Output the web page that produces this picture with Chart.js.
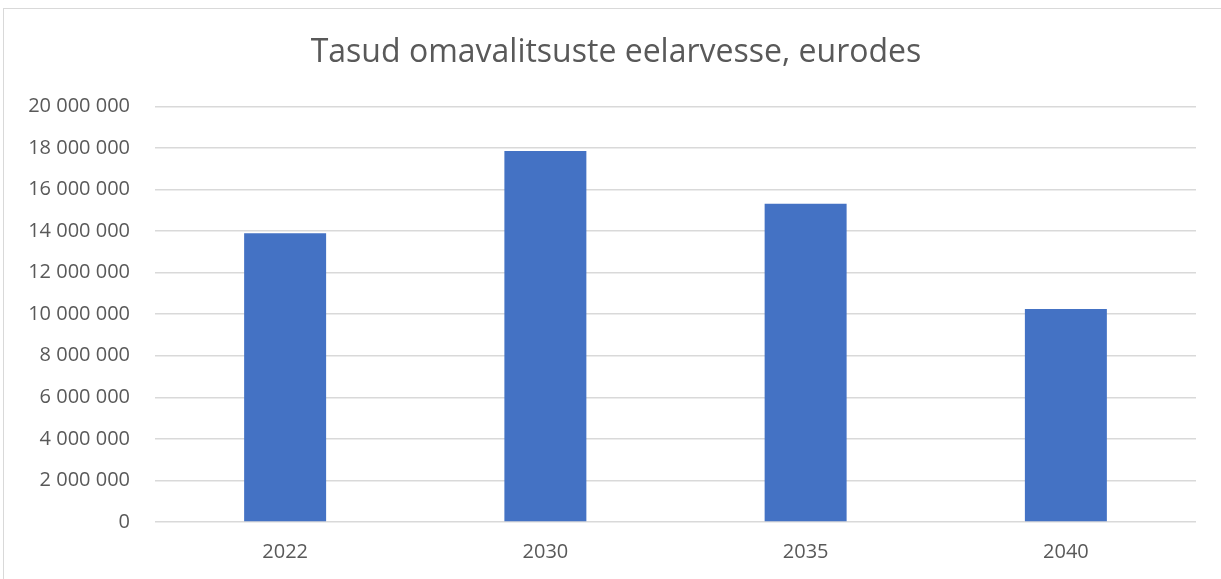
<!DOCTYPE html>
<html>
<head>
<meta charset="utf-8">
<script src="https://cdn.jsdelivr.net/npm/chart.js@4"></script>
<style>
  html, body { margin: 0; padding: 0; background: #fff; }
  #wrap { position: relative; width: 1221px; height: 579px; overflow: hidden; }
  #frame { position: absolute; left: 3px; top: 8px; width: 1300px; height: 700px; border: 1px solid #d9d9d9; }
  #bar-chart { position: absolute; left: 0; top: 0; }
</style>
</head>
<body>
<div id="wrap">
  <div id="frame"></div>
  <canvas id="bar-chart" width="1221" height="579"></canvas>
</div>
<script>
// aastad (x-telg)
const years = ["2022", "2030", "2035", "2040"];
// tasud, eurodes
const fees = [13900000, 17850000, 15310000, 10250000];
// y-telje samm ja maksimum
const yStep = 2000000;
const yMax = 20000000;

const fmt = v => String(v).replace(/\B(?=(\d{3})+(?!\d))/g, " ");

// pealkiri veidi paremale, nagu originaalis
const titleShift = {
    id: 'titleShift',
    afterLayout(c) { c.titleBlock.left = 36; }
};

const chart = new Chart(document.getElementById("bar-chart"), {
    type: 'bar',
    data: {
        labels: years,
        datasets: [{
            data: fees,
            backgroundColor: "#4472c4",
            categoryPercentage: 1,
            barPercentage: 0.315
        }]
    },
    options: {
        responsive: false,
        animation: false,
        layout: { padding: { left: 0, right: 25, top: 0, bottom: 0 } },
        plugins: {
            legend: { display: false },
            tooltip: { enabled: false },
            title: {
                display: true,
                text: 'Tasud omavalitsuste eelarvesse, eurodes',
                color: '#595959',
                font: { family: 'Open Sans', size: 32, weight: '400' },
                padding: { top: 34, bottom: 34 }
            }
        },
        scales: {
            x: {
                grid: { display: false, drawTicks: false },
                border: { display: false },
                ticks: { color: '#595959', font: { family: 'Open Sans', size: 20 }, padding: 18 },
                afterFit: s => { s.height = 57; }
            },
            y: {
                min: 0,
                max: yMax,
                grid: { color: '#d9d9d9', lineWidth: 1.5, drawTicks: false },
                border: { display: false },
                ticks: {
                    stepSize: yStep,
                    color: '#595959',
                    font: { family: 'Open Sans', size: 20 },
                    padding: 25,
                    callback: v => fmt(v)
                },
                afterFit: s => { s.width = 155; }
            }
        }
    },
    plugins: [titleShift]
});
</script>
</body>
</html>
